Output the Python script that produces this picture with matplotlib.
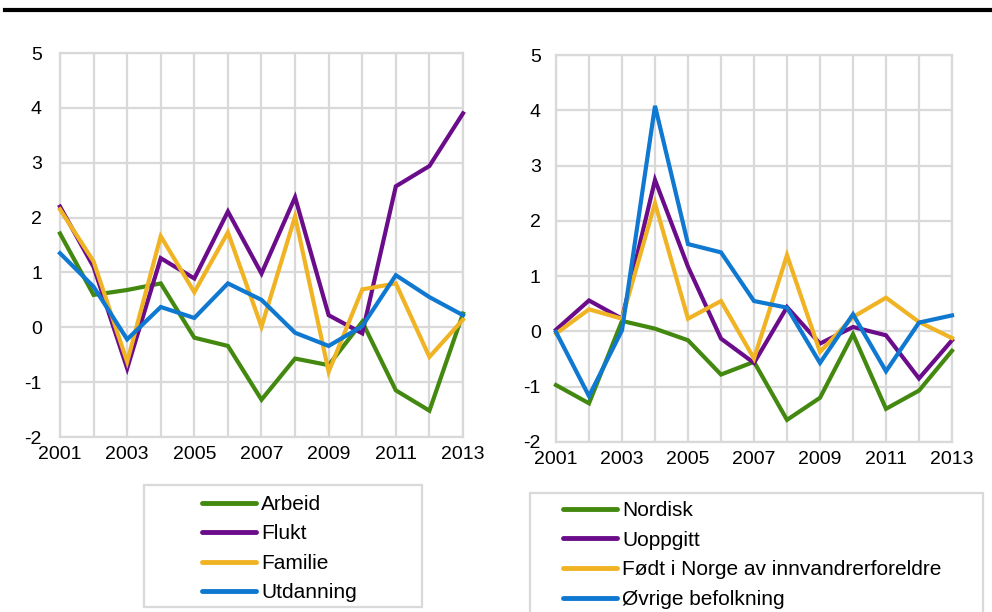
import matplotlib
matplotlib.use("Agg")
import matplotlib.pyplot as plt
from matplotlib.patches import Rectangle
from matplotlib.lines import Line2D

plt.rcParams['font.family'] = ['Liberation Sans', 'DejaVu Sans']

years = list(range(2001, 2014))

# Left panel: by reason for immigration
arbeid = [1.71, 0.59, 0.68, 0.80, -0.19, -0.34, -1.32, -0.57, -0.69, 0.10, -1.15, -1.52, 0.25]
flukt = [2.20, 1.10, -0.75, 1.26, 0.89, 2.11, 0.98, 2.37, 0.22, -0.11, 2.57, 2.94, 3.90]
familie = [2.15, 1.20, -0.63, 1.66, 0.64, 1.73, 0.01, 2.02, -0.81, 0.69, 0.80, -0.54, 0.14]
utdanning = [1.35, 0.74, -0.22, 0.37, 0.17, 0.80, 0.50, -0.10, -0.34, 0.02, 0.95, 0.55, 0.22]

# Right panel: other groups
nordisk = [-0.97, -1.30, 0.19, 0.05, -0.16, -0.78, -0.55, -1.60, -1.20, -0.05, -1.40, -1.07, -0.35]
uoppgitt = [0.03, 0.56, 0.23, 2.74, 1.17, -0.13, -0.57, 0.44, -0.22, 0.08, -0.07, -0.85, -0.16]
fodt_i_norge = [-0.04, 0.40, 0.23, 2.32, 0.23, 0.55, -0.49, 1.38, -0.37, 0.26, 0.61, 0.17, -0.12]
ovrige = [-0.01, -1.17, 0.02, 4.08, 1.58, 1.43, 0.55, 0.43, -0.57, 0.31, -0.72, 0.16, 0.29]

left_labels = ['Arbeid', 'Flukt', 'Familie', 'Utdanning']
right_labels = ['Nordisk', 'Uoppgitt', 'Født i Norge av innvandrerforeldre', 'Øvrige befolkning']

y_ticks = [-2, -1, 0, 1, 2, 3, 4, 5]
x_tick_labels = [2001, 2003, 2005, 2007, 2009, 2011, 2013]

colors = ['#43880f', '#6b0c8a', '#f0b323', '#0f78d0']
GRID = '#d9d9d9'

fig = plt.figure(figsize=(9.92, 6.12), dpi=100)

ax1 = fig.add_axes([60/992, (612-437)/612, 403/992, 384/612])
ax2 = fig.add_axes([556/992, (612-442)/612, 396/992, 387/612])


def style(ax, ypad):
    ax.set_xlim(2001, 2013)
    ax.set_ylim(-2, 5)
    ax.set_xticks(years)
    ax.set_xticklabels([str(y) if y in x_tick_labels else '' for y in years])
    ax.set_yticks(y_ticks)
    ax.set_yticklabels([str(v) for v in y_ticks])
    ax.grid(True, color=GRID, linewidth=1.6, zorder=0)
    for s in ax.spines.values():
        s.set_color(GRID)
        s.set_linewidth(1.6)
    ax.tick_params(axis='both', length=0, labelsize=14, colors='black')
    ax.tick_params(axis='x', pad=6.5)
    ax.tick_params(axis='y', pad=ypad)
    ax.set_axisbelow(True)


for ax, series, labels, ypad in [
    (ax1, [arbeid, flukt, familie, utdanning], left_labels, 13),
    (ax2, [nordisk, uoppgitt, fodt_i_norge, ovrige], right_labels, 11),
]:
    for data, c, lab in zip(series, colors, labels):
        ax.plot(years, data, color=c, linewidth=3, label=lab, zorder=3,
                solid_joinstyle='miter', clip_on=False)
    style(ax, ypad)

# legends with manual frames
fig.patches.append(Rectangle((144/992, (612-607)/612), 278/992, 122/612,
                             transform=fig.transFigure, fill=False,
                             edgecolor=GRID, linewidth=1.6))
fig.patches.append(Rectangle((530/992, (612-640)/612), 453/992, 147/612,
                             transform=fig.transFigure, fill=False,
                             edgecolor=GRID, linewidth=1.6))

h1 = [Line2D([0], [0], color=c, linewidth=3.5, solid_capstyle='round') for c in colors]
fig.legend(h1, left_labels, loc='upper left',
           bbox_to_anchor=(202/992, (612-495)/612), frameon=False,
           fontsize=15, handlelength=2.6, handletextpad=0.25, labelspacing=0.5,
           borderpad=0.0, borderaxespad=0.0)
fig.legend(h1, right_labels, loc='upper left',
           bbox_to_anchor=(563/992, (612-501)/612), frameon=False,
           fontsize=15, handlelength=2.6, handletextpad=0.25, labelspacing=0.51,
           borderpad=0.0, borderaxespad=0.0)

# top rule
fig.add_artist(Line2D([5/992, 990/992], [(612-10)/612, (612-10)/612],
                      transform=fig.transFigure, color='black', linewidth=3))

fig.savefig('out.png', dpi=100)
